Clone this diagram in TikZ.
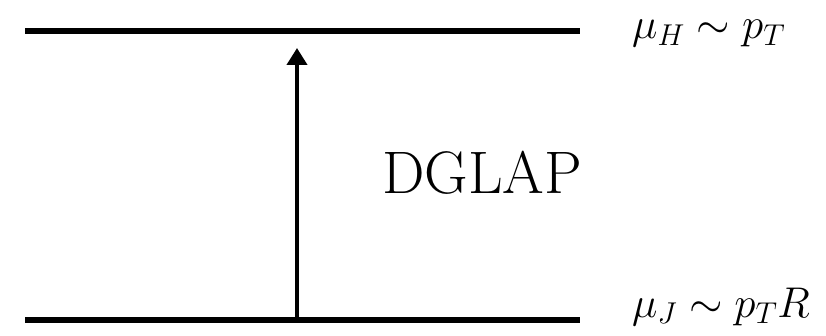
\documentclass[tikz,border=0pt]{standalone}
\usepackage{fix-cm}
\usepackage{amsmath,amssymb}
\usepackage{tikz}
\usetikzlibrary{arrows.meta,positioning}
\tikzset{
  scaleline/.style={
    line width=6pt,
    black
  },
  scalelabel/.style={
    anchor=base west,
    inner sep=0pt,
    font=\fontsize{43}{48}\selectfont
  },
  evolline/.style={-{Triangle[length=17pt,width=20pt]},line width=4pt}
}

\begin{document}
\begin{tikzpicture}[x=1pt,y=1pt]
  \useasboundingbox (0,0) rectangle (826,335);
  \coordinate (hl) at (25,304);
  \coordinate (hr) at (580,304);
  \coordinate (jl) at (25,15);
  \coordinate (jr) at (580,15);
  \coordinate (jmid) at (297,15);
  \coordinate (hmid) at (297,287);
  \node[scalelabel] (hlabel) at (632,296) {$\mu_H \sim p_T$};
  \node[scalelabel] (jlabel) at (632,18) {$\mu_J \sim p_T R$};
  \node[font=\fontsize{60}{70}\selectfont, inner sep=0pt, anchor=base west] (dglap) at (382,142) {DGLAP};
  \draw[scaleline] (hl) -- (hr);
  \draw[scaleline] (jl) -- (jr);
  \draw[evolline] (jmid) -- (hmid);
\end{tikzpicture}
\end{document}
